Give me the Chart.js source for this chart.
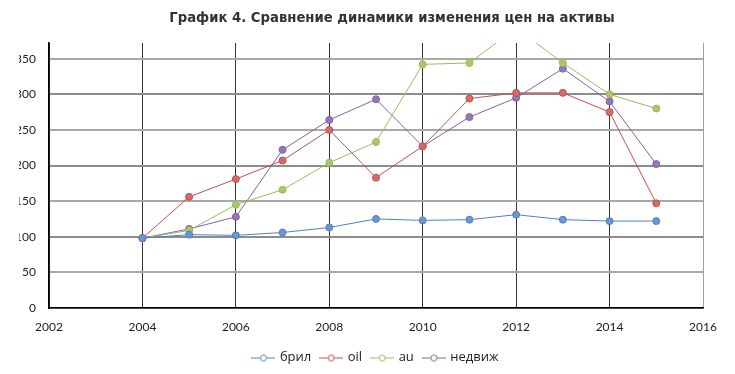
<!DOCTYPE html>
<html>
<head>
<meta charset="utf-8">
<script src="https://cdn.jsdelivr.net/npm/chart.js@4.4.1/dist/chart.umd.min.js"></script>
<style>
  html, body { margin: 0; padding: 0; background: #fff; }
  #wrap { width: 735px; height: 374px; overflow: hidden; position: relative; }
  #chart { position: absolute; left: 0; top: 0; }
  /* the source picture is cropped on the left, over the hundreds digit */
  #crop { position: absolute; left: 0; top: 0; width: 19px; height: 320px; background: #fff; }
</style>
</head>
<body>
<div id="wrap"><canvas id="chart" width="735" height="374"></canvas><div id="crop"></div></div>
<script>
// data
const years = [2004, 2005, 2006, 2007, 2008, 2009, 2010, 2011, 2012, 2013, 2014, 2015];
const bril   = [98, 103, 102, 106, 113, 125, 123, 124, 131, 124, 122, 122];
const oil    = [98, 156, 181, 207, 250, 183, 227, 294, 302, 302, 275, 147];
const au     = [98, 109, 145, 166, 204, 233, 342, 344, 393, 344, 300, 280];
const nedviz = [98, 111, 128, 222, 264, 293, 227, 268, 295, 336, 290, 202];
const seriesNames = ['брил', 'oil', 'au', 'недвиж'];
const seriesColors = ['#4f81bd', '#c0504d', '#9bbb59', '#8064a2'];
const pointFills = ['#6a97d0', '#d66a67', '#a9c86c', '#9279b4'];
const titleText = 'График 4. Сравнение динамики изменения цен на активы';

function toPoints(vals) {
  return vals.map((v, i) => ({ x: years[i], y: v }));
}

// legend icon: short line with a hollow circle
function legendIcon(color) {
  const c = document.createElement('canvas');
  c.width = 24; c.height = 10;
  const g = c.getContext('2d');
  g.strokeStyle = color;
  g.lineWidth = 1;
  g.beginPath(); g.moveTo(0, 5.5); g.lineTo(24, 5.5); g.stroke();
  g.fillStyle = '#fff';
  g.beginPath(); g.arc(12, 5.5, 3, 0, Math.PI * 2); g.fill(); g.stroke();
  return c;
}

// title is drawn a bit right of centre, as in the source
const titlePlugin = {
  id: 'titleText',
  afterDraw(chart) {
    const g = chart.ctx;
    g.save();
    g.font = 'bold 14.7px "Liberation Sans Narrow", "DejaVu Sans Condensed", sans-serif';
    g.fillStyle = '#333';
    g.textAlign = 'center';
    g.textBaseline = 'middle';
    g.fillText(titleText, 392, 18);
    g.restore();
  }
};

const allSeries = [bril, oil, au, nedviz];
const datasets = allSeries.map((vals, i) => ({
  label: seriesNames[i],
  data: toPoints(vals),
  borderColor: seriesColors[i],
  backgroundColor: pointFills[i],
  borderWidth: 1,
  pointRadius: 3.5,
  pointBorderWidth: 1,
  pointBorderColor: seriesColors[i],
  pointBackgroundColor: pointFills[i],
  tension: 0
}));

const ctx = document.getElementById('chart').getContext('2d');
new Chart(ctx, {
  type: 'line',
  data: { datasets: datasets },
  plugins: [titlePlugin],
  options: {
    responsive: false,
    animation: false,
    devicePixelRatio: 1,
    layout: { padding: { left: 0, right: 32, top: 43, bottom: 0 } },
    scales: {
      x: {
        type: 'linear',
        min: 2002,
        max: 2016,
        ticks: {
          stepSize: 2,
          padding: 12,
          color: '#222',
          font: { family: 'Lato, "Open Sans", sans-serif', size: 12 },
          callback: v => String(v)
        },
        grid: {
          drawTicks: false,
          lineWidth: 1,
          color: c => (c.tick && c.tick.value === 2016) ? '#a0a0a0' : '#333'
        },
        border: { color: '#000', width: 1.5 },
        afterFit: s => { s.height = 33; }
      },
      y: {
        min: 0,
        max: 372,
        ticks: {
          stepSize: 50,
          includeBounds: false,
          padding: 13,
          color: '#222',
          font: { family: 'Lato, "Open Sans", sans-serif', size: 12 }
        },
        grid: {
          drawTicks: false,
          lineWidth: 2,
          color: c => (c.tick && c.tick.value % 100 === 0) ? '#8c8c8c' : '#a8a8a8'
        },
        border: { color: '#000', width: 1.5 },
        afterFit: s => { s.width = 49; }
      }
    },
    plugins: {
      title: { display: false },
      legend: {
        position: 'bottom',
        fullSize: false,
        labels: {
          usePointStyle: true,
          pointStyleWidth: 20,
          boxHeight: 10,
          color: '#222',
          font: { family: '"Open Sans", "Noto Sans", sans-serif', size: 13 },
          padding: 10,
          generateLabels: chart => chart.data.datasets.map((ds, i) => ({
            text: ds.label,
            pointStyle: legendIcon(seriesColors[i]),
            fillStyle: seriesColors[i],
            strokeStyle: seriesColors[i],
            lineWidth: 0,
            hidden: false,
            datasetIndex: i,
            fontColor: '#222'
          }))
        }
      },
      tooltip: { enabled: false }
    }
  }
});
</script>
</body>
</html>
